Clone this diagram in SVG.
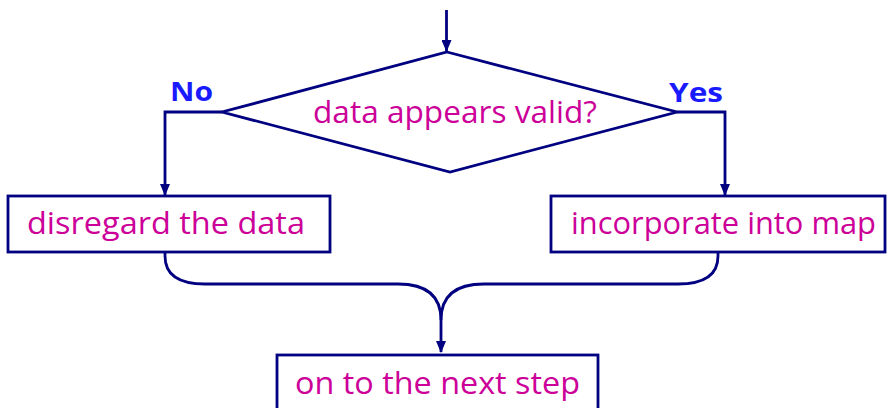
<svg xmlns="http://www.w3.org/2000/svg" width="889" height="408" viewBox="0 0 889 408">
<style>
.ln{fill:none;stroke:#000080;stroke-width:2.8}
.box{fill:#fff;stroke:#000080;stroke-width:2.8}
.t{fill:#cc0099;font-family:"Open Sans","Liberation Sans",sans-serif;font-size:31px}
.lb{fill:#1a1aff;font-family:"Open Sans","Liberation Sans",sans-serif;font-size:27px;font-weight:bold}
</style>
<defs>
<marker id="ah" markerWidth="12" markerHeight="10" refX="11" refY="5" orient="auto" markerUnits="userSpaceOnUse">
<path d="M0,0 L12,5 L0,10 Z" fill="#000080"/>
</marker>
</defs>
<g id="connectors">
<path class="ln" d="M446.5,10 V51" marker-end="url(#ah)"/>
<path class="ln" d="M222,112 H165 V195" marker-end="url(#ah)"/>
<path class="ln" d="M677,112 H725 V195" marker-end="url(#ah)"/>
<path class="ln" d="M165,252 V256 Q165,284 205,284 H398 Q441,284 441,320"/>
<path class="ln" d="M718,252 V256 Q718,284 678,284 H484 Q441,284 441,320 V352" marker-end="url(#ah)"/>
</g>
<g id="decision">
<polygon class="ln" points="447,52 677,112 450,172 222,112"/>
<text class="t" x="455" y="123" text-anchor="middle" textLength="284" lengthAdjust="spacingAndGlyphs">data appears valid?</text>
</g>
<g id="label-no"><text class="lb" x="170" y="101" textLength="43" lengthAdjust="spacingAndGlyphs">No</text></g>
<g id="label-yes"><text class="lb" x="669" y="102" textLength="54" lengthAdjust="spacingAndGlyphs">Yes</text></g>
<g id="disregard">
<rect class="box" x="8" y="196" width="322" height="56"/>
<text class="t" x="27" y="234" textLength="278" lengthAdjust="spacingAndGlyphs">disregard the data</text>
</g>
<g id="incorporate">
<rect class="box" x="551" y="196" width="334" height="56"/>
<text class="t" x="571" y="234" textLength="305" lengthAdjust="spacingAndGlyphs">incorporate into map</text>
</g>
<g id="next">
<rect class="box" x="277" y="355" width="321" height="70"/>
<text class="t" x="295" y="394" textLength="285" lengthAdjust="spacingAndGlyphs">on to the next step</text>
</g>
</svg>
